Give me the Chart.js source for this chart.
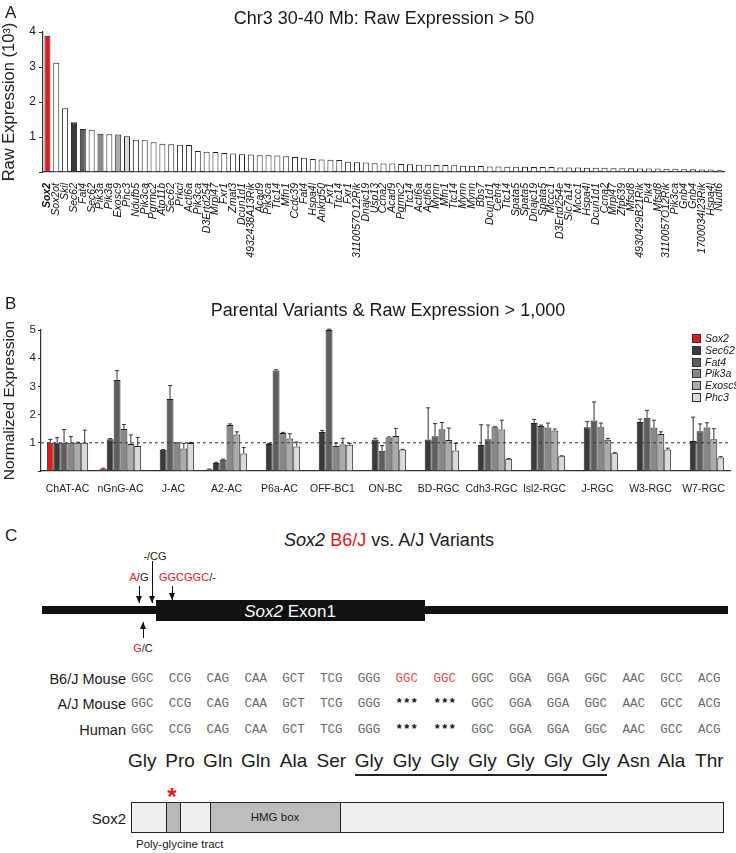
<!DOCTYPE html>
<html>
<head>
<meta charset="utf-8">
<script src="https://cdn.jsdelivr.net/npm/chart.js@4.4.0/dist/chart.umd.min.js"></script>
<style>
body { margin: 0; background: #fff; font-family: "Liberation Sans", Arial, sans-serif; color: #1a1a1a; }
#page { position: relative; width: 736px; height: 853px; overflow: hidden; }
#page canvas { position: absolute; left: 0; }
.t { position: absolute; white-space: nowrap; line-height: 1; }
.red { color: #e3191c; }
.legend-row { position: absolute; left: 692px; font-size: 10.5px; font-style: italic; line-height: 1; white-space: nowrap; }
.legend-row span.sw { display: inline-block; width: 7px; height: 7px; border: 1px solid #333; margin-right: 4px; vertical-align: -1px; }
</style>
</head>
<body>
<div id="page">
  <canvas id="chartA" width="736" height="262" style="top:0"></canvas>
  <canvas id="chartB" width="736" height="200" style="top:300px"></canvas>
</div>
<script>
// ---- Panel A: Chr3 30-40 Mb genes, raw expression (x10^3)
const genesA = ['Sox2', 'Sox2ot', 'Skil', 'Sec62', 'Fat4', 'Sec62', 'Pik3a', 'Pik3a', 'Exosc9', 'Phc3',
  'Ndufb5', 'Pik3ca', 'Pgrmc2', 'Atp11b', 'Sec62', 'Prkci', 'Actl6a', 'Pik3ca', 'D3Ertd254', 'Mrpl47',
  'Fxr1', 'Zmat3', 'Dcun1d1', '4932438A13Rik', 'Acad9', 'Pik3ca', 'Ttc14', 'Mfn1', 'Ccdc39', 'Fat4',
  'Hspa4l', 'Ankrd50', 'Fxr1', 'Ttc14', 'Fxr1', '3110057O12Rik', 'Dnajc19', 'Usp13', 'Ccna2', 'Acad9',
  'Pgrmc2', 'Ttc14', 'Actl6a', 'Actl6a', 'Mynn', 'Mfn1', 'Ttc14', 'Mynn', 'Mynn', 'Bbs7',
  'Dcun1d1', 'Cetn4', 'Ttc14', 'Spata5', 'Spata5', 'Dnajc19', 'Spata5', 'Mccc1', 'D3Ertd254e', 'Slc7a14',
  'Mccc1', 'Hspa4l', 'Dcun1d1', 'Ccna2', 'Mrpl47', 'Zfp639', 'Mfsd8', '4930429B21Rik', 'Plk4', 'Mfsd8',
  '3110057O12Rik', 'Pik3ca', 'Gnb4', 'Gnb4', '1700034I23Rik', 'Hspa4l', 'Nudt6'];
const rawExpr = [3.89, 3.12, 1.82, 1.42, 1.23, 1.21, 1.09, 1.08, 1.07, 1.02,
  0.92, 0.91, 0.85, 0.81, 0.79, 0.78, 0.77, 0.60, 0.58, 0.57,
  0.54, 0.53, 0.51, 0.50, 0.48, 0.48, 0.47, 0.45, 0.43, 0.41,
  0.37, 0.36, 0.35, 0.34, 0.29, 0.28, 0.27, 0.25, 0.24, 0.24,
  0.23, 0.22, 0.21, 0.21, 0.20, 0.20, 0.19, 0.18, 0.18, 0.17,
  0.16, 0.16, 0.15, 0.15, 0.15, 0.14, 0.14, 0.14, 0.13, 0.13,
  0.13, 0.12, 0.12, 0.12, 0.11, 0.11, 0.11, 0.10, 0.10, 0.10,
  0.09, 0.09, 0.08, 0.08, 0.07, 0.07, 0.05];
// which bars in A are the highlighted (panel B) genes
const highlightA = { 0: 'Sox2', 3: 'Sec62', 4: 'Fat4', 6: 'Pik3a', 8: 'Exosc9', 9: 'Phc3' };

// ---- Panel B: normalized expression per cell type
const cellTypes = ['ChAT-AC', 'nGnG-AC', 'J-AC', 'A2-AC', 'P6a-AC', 'OFF-BC1', 'ON-BC',
  'BD-RGC', 'Cdh3-RGC', 'Isl2-RGC', 'J-RGC', 'W3-RGC', 'W7-RGC'];
const genesB = ['Sox2', 'Sec62', 'Fat4', 'Pik3a', 'Exosc9', 'Phc3'];
const sox2 = [1.0, 0.08, 0.01, 0.05, 0.02, 0.01, 0.01, 0.01, 0.01, 0.01, 0.03, 0.01, 0.01];
const sec62 = [1.0, 1.13, 0.75, 0.28, 0.96, 1.38, 1.12, 1.12, 0.92, 1.70, 1.55, 1.74, 1.06];
const fat4 = [1.0, 3.23, 2.55, 0.40, 3.56, 5.00, 0.72, 1.23, 1.13, 1.60, 1.79, 1.89, 1.41];
const pik3a = [1.0, 1.49, 0.98, 1.63, 1.35, 0.89, 1.19, 1.48, 1.55, 1.54, 1.55, 1.54, 1.54];
const exosc9 = [1.0, 0.96, 0.80, 1.29, 1.15, 0.94, 1.24, 1.10, 1.47, 1.44, 1.11, 1.31, 1.13];
const phc3 = [1.0, 0.89, 0.99, 0.62, 0.87, 0.93, 0.76, 0.73, 0.43, 0.52, 0.63, 0.76, 0.48];
const sox2Err = [0.12, 0.02, 0, 0.02, 0, 0, 0, 0, 0, 0, 0, 0, 0];
const sec62Err = [0.18, 0.02, 0.01, 0.03, 0.02, 0.06, 0.04, 1.12, 0.72, 0.13, 0.20, 0.10, 0.85];
const fat4Err = [0.47, 0.33, 0.48, 0.02, 0.03, 0.03, 0.18, 0.45, 0.50, 0.03, 0.66, 0.26, 0.26];
const pik3aErr = [0.22, 0.16, 0.02, 0.04, 0.02, 0.10, 0.02, 0.24, 0.02, 0.16, 0.15, 0.26, 0.17];
const exosc9Err = [0.02, 0.32, 0.18, 0.10, 0.17, 0.22, 0.27, 0.42, 0.33, 0.05, 0.04, 0.08, 0.37];
const phc3Err = [0.45, 0.30, 0.02, 0.21, 0.16, 0.05, 0.01, 0.25, 0.01, 0.02, 0.02, 0.05, 0.03];

// ---- Panel C: sequences
const b6Codons = ['GGC', 'CCG', 'CAG', 'CAA', 'GCT', 'TCG', 'GGG', 'GGC', 'GGC', 'GGC', 'GGA', 'GGA', 'GGC', 'AAC', 'GCC', 'ACG'];
const ajCodons = ['GGC', 'CCG', 'CAG', 'CAA', 'GCT', 'TCG', 'GGG', '***', '***', 'GGC', 'GGA', 'GGA', 'GGC', 'AAC', 'GCC', 'ACG'];
const humanCodons = ['GGC', 'CCG', 'CAG', 'CAA', 'GCT', 'TCG', 'GGG', '***', '***', 'GGC', 'GGA', 'GGA', 'GGC', 'AAC', 'GCC', 'ACG'];
const aminoAcids = ['Gly', 'Pro', 'Gln', 'Gln', 'Ala', 'Ser', 'Gly', 'Gly', 'Gly', 'Gly', 'Gly', 'Gly', 'Gly', 'Asn', 'Ala', 'Thr'];
const b6Variant = [7, 8]; // codons shown in red for B6/J

const geneColors = {
    Sox2: '#e3191c',
    Sec62: '#3a3a3a',
    Fat4: '#5e5e5e',
    Pik3a: '#888888',
    Exosc9: '#ababab',
    Phc3: '#dadada'
};

Chart.defaults.font.family = '"Liberation Sans", Arial, sans-serif';
Chart.defaults.color = '#222';

const page = document.getElementById('page');

function addText(x, y, html, css, anchor) {
    const el = document.createElement('div');
    el.className = 't';
    el.innerHTML = html;
    el.style.cssText += css || '';
    el.style.left = x + 'px';
    el.style.top = y + 'px';
    const tx = anchor === 'left' ? '0' : anchor === 'right' ? '-100%' : '-50%';
    el.style.transform = 'translate(' + tx + ',-50%)';
    page.appendChild(el);
    return el;
}

function addBox(x, y, w, h, css) {
    const el = document.createElement('div');
    el.style.cssText = 'position:absolute;box-sizing:border-box;left:' + x + 'px;top:' + y + 'px;width:' + w + 'px;height:' + h + 'px;' + (css || '');
    page.appendChild(el);
    return el;
}

// vertical arrow from y1 to y2, head at y2
function addArrow(x, y1, y2) {
    const down = y2 > y1;
    addBox(x - 0.5, Math.min(y1, y2), 1.2, Math.abs(y2 - y1), 'background:#111');
    const head = addBox(x - 3, down ? y2 - 7 : y2, 6, 7, '');
    head.style.width = '0'; head.style.height = '0';
    head.style.borderLeft = '3px solid transparent';
    head.style.borderRight = '3px solid transparent';
    if (down) head.style.borderTop = '7px solid #111';
    else head.style.borderBottom = '7px solid #111';
}

// ---- chart plugins
const errorBars = {
    id: 'errorBars',
    afterDatasetsDraw(chart) {
        const ctx = chart.ctx;
        const y = chart.scales.y;
        ctx.save();
        ctx.strokeStyle = '#333';
        ctx.lineWidth = 1;
        chart.data.datasets.forEach((ds, di) => {
            if (!ds.errors) return;
            chart.getDatasetMeta(di).data.forEach((bar, i) => {
                const err = ds.errors[i];
                if (!err) return;
                const top = y.getPixelForValue(ds.data[i] + err);
                ctx.beginPath();
                ctx.moveTo(bar.x, bar.y);
                ctx.lineTo(bar.x, top);
                ctx.moveTo(bar.x - 2, top);
                ctx.lineTo(bar.x + 2, top);
                ctx.stroke();
            });
        });
        ctx.restore();
    }
};

const refLine = {
    id: 'refLine',
    afterDatasetsDraw(chart) {
        const ctx = chart.ctx;
        const area = chart.chartArea;
        const py = chart.scales.y.getPixelForValue(1);
        ctx.save();
        ctx.strokeStyle = '#333';
        ctx.lineWidth = 1;
        ctx.setLineDash([3, 3]);
        ctx.beginPath();
        ctx.moveTo(area.left, py);
        ctx.lineTo(area.right, py);
        ctx.stroke();
        ctx.restore();
    }
};

function createChartA() {
    const ctx = document.getElementById('chartA').getContext('2d');
    new Chart(ctx, {
        type: 'bar',
        data: {
            labels: genesA,
            datasets: [{
                data: rawExpr,
                backgroundColor: rawExpr.map((v, i) => highlightA[i] ? geneColors[highlightA[i]] : '#ffffff'),
                borderColor: '#222',
                borderWidth: 1,
                categoryPercentage: 1,
                barPercentage: 0.68
            }]
        },
        options: {
            responsive: false,
            animation: false,
            layout: { padding: { top: 32, right: 12, left: 0, bottom: 0 } },
            plugins: { legend: { display: false }, tooltip: { enabled: false } },
            scales: {
                x: {
                    grid: { display: false },
                    border: { display: true, color: '#333', width: 1.2 },
                    ticks: {
                        autoSkip: false,
                        maxRotation: 90,
                        minRotation: 90,
                        padding: 3,
                        color: '#111',
                        font: c => ({ size: 10.5, style: 'italic', weight: c.index === 0 ? 'bold' : 'normal' })
                    },
                    afterFit: s => { s.height = 90; }
                },
                y: {
                    min: 0,
                    max: 4,
                    ticks: { stepSize: 1, callback: v => v === 0 ? '' : v, font: { size: 12 }, padding: 3 },
                    grid: { drawOnChartArea: false, drawTicks: true, tickLength: 4, color: '#333' },
                    border: { color: '#333', width: 1.2 },
                    title: { display: true, text: 'Raw Expression (10³)', font: { size: 16.5 }, padding: 0 },
                    afterFit: s => { s.width = 43; }
                }
            }
        }
    });
}

function createChartB() {
    const ctx = document.getElementById('chartB').getContext('2d');
    const values = [sox2, sec62, fat4, pik3a, exosc9, phc3];
    const errors = [sox2Err, sec62Err, fat4Err, pik3aErr, exosc9Err, phc3Err];
    new Chart(ctx, {
        type: 'bar',
        data: {
            labels: cellTypes,
            datasets: genesB.map((g, i) => ({
                label: g,
                data: values[i],
                errors: errors[i],
                backgroundColor: geneColors[g],
                borderColor: '#222',
                borderWidth: 1,
                categoryPercentage: 0.78,
                barPercentage: 1
            }))
        },
        options: {
            responsive: false,
            animation: false,
            layout: { padding: { top: 30, right: 6, left: 0, bottom: 0 } },
            plugins: { legend: { display: false }, tooltip: { enabled: false } },
            scales: {
                x: {
                    grid: { display: false },
                    border: { display: true, color: '#333', width: 1.2 },
                    ticks: { autoSkip: false, padding: 4, maxRotation: 0, font: { size: 10.5 } },
                    afterFit: s => { s.height = 29; }
                },
                y: {
                    min: 0,
                    max: 5,
                    ticks: { stepSize: 1, callback: v => v === 0 ? '' : v, font: { size: 11.5 }, padding: 2 },
                    grid: { drawOnChartArea: false, drawTicks: true, tickLength: 3, color: '#333' },
                    border: { color: '#333', width: 1.2 },
                    title: { display: true, text: 'Normalized Expression', font: { size: 15.5 }, padding: 0 },
                    afterFit: s => { s.width = 41; }
                }
            }
        },
        plugins: [errorBars, refLine]
    });
}

function drawLabels() {
    addText(5, 12, 'A', 'font-size:17px', 'left');
    addText(384, 18, 'Chr3 30-40 Mb: Raw Expression &gt; 50', 'font-size:18px');
    addText(5, 303, 'B', 'font-size:17px', 'left');
    addText(388, 310, 'Parental Variants &amp; Raw Expression &gt; 1,000', 'font-size:18px');
    genesB.forEach((g, i) => {
        const row = document.createElement('div');
        row.className = 'legend-row';
        row.style.top = (333 + i * 11.8) + 'px';
        row.innerHTML = '<span class="sw" style="background:' + geneColors[g] + '"></span>' + g;
        page.appendChild(row);
    });
}

function drawPanelC() {
    addText(5, 535, 'C', 'font-size:17px', 'left');
    addText(389, 540, '<i>Sox2</i> <span class="red">B6/J</span> vs. A/J Variants', 'font-size:18px');

    // variant labels and arrows
    addText(155, 556, '-/CG', 'font-size:11px');
    addText(139, 577, '<span class="red">A</span>/G', 'font-size:11px');
    addText(159, 577, '<span class="red">GGCGGC</span>/-', 'font-size:11px', 'left');
    addArrow(139, 586, 603);
    addArrow(152, 561, 603);
    addArrow(172, 586, 600);
    addArrow(143, 638, 622);
    addText(143, 648, '<span class="red">G</span>/C', 'font-size:11px');

    // gene structure
    addBox(42, 606, 686, 8, 'background:#111');
    addBox(156, 600, 269, 21, 'background:#111');
    addText(290, 611, '<i>Sox2</i> Exon1', 'font-size:17px;color:#fff');

    // codon rows
    const x0 = 131, step = 37.8;
    const rows = [['B6/J Mouse', b6Codons, 679], ['A/J Mouse', ajCodons, 704], ['Human', humanCodons, 730]];
    rows.forEach(([name, codons, y], r) => {
        addText(126, y, name, 'font-size:14.5px', 'right');
        codons.forEach((c, i) => {
            let css = 'font-family:"Liberation Mono",monospace;font-size:12.5px;color:#6b6b6b';
            if (c === '***') css = 'font-family:"Liberation Mono",monospace;font-size:12.5px;color:#111;font-weight:bold';
            else if (r === 0 && b6Variant.includes(i)) css += ';color:#e35050';
            addText(x0 + i * step, y, c, css, 'left');
        });
    });
    aminoAcids.forEach((a, i) => {
        addText(x0 + i * step + 11.3, 760, a, 'font-size:19px');
    });
    addBox(355, 774, 252, 1.6, 'background:#222');

    // protein domain cartoon
    addText(126, 818, 'Sox2', 'font-size:15px', 'right');
    addBox(131, 802, 593, 31, 'background:#efefef;border:1.5px solid #222');
    addBox(166, 802, 15, 31, 'background:#b9b9b9;border:1.5px solid #222');
    addBox(210, 802, 131, 31, 'background:#bdbdbd;border:1.5px solid #222');
    addText(275, 818, 'HMG box', 'font-size:11.5px');
    addText(172, 797, '*', 'font-size:24px;font-weight:bold;color:#e3191c');
    addText(136, 845, 'Poly-glycine tract', 'font-size:11.5px', 'left');
}

createChartA();
createChartB();
drawLabels();
drawPanelC();
</script>
</body>
</html>
